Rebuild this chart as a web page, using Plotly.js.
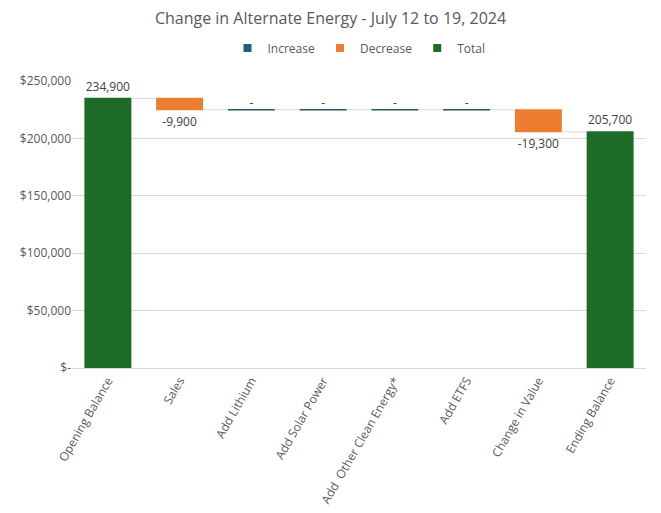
<!DOCTYPE html>
<html>
<head>
<meta charset="utf-8">
<script src="https://cdn.plot.ly/plotly-3.0.1.min.js"></script>
<style>html,body{margin:0;padding:0;background:#fff;}#chart{width:661px;height:513px;}</style>
</head>
<body>
<div id="chart"></div>
<script>
const categories = ['Opening Balance','Sales','Add Lithium','Add Solar Power','Add  Other Clean Energy*','Add ETFS','Change in Value','Ending Balance'];
const measures = ['absolute','relative','relative','relative','relative','relative','relative','total'];
const values = [234900,-9900,0,0,0,0,-19300,205700];
const yTickVals = [0,50000,100000,150000,200000,250000];
const yTickText = ['$-','$50,000','$100,000','$150,000','$200,000','$250,000'];

const fmt = v => v.toLocaleString('en-US');

// running totals
let running = 0; const levels = [];
values.forEach((v,i) => {
  if (measures[i]==='absolute') running = v;
  else if (measures[i]==='relative') running += v;
  levels.push(running);
});
const barText = values.map((v,i) => measures[i]==='total' ? fmt(levels[i]) : (v===0 ? '' : fmt(v)));
const zeroX = categories.filter((c,i)=>measures[i]==='relative' && values[i]===0);
const zeroY = levels.filter((l,i)=>measures[i]==='relative' && values[i]===0);

const cInc = '#1f5f82', cDec = '#ed7d31', cTot = '#1e6b27';
const labelFont = {family:'Open Sans, sans-serif', size:12, color:'#404040'};

const traces = [
  {type:'waterfall', x:categories, y:values, measure:measures, showlegend:false,
   text:barText, textposition:'outside', textfont:labelFont, cliponaxis:false,
   increasing:{marker:{color:cInc}}, decreasing:{marker:{color:cDec}}, totals:{marker:{color:cTot}},
   connector:{mode:'between', line:{color:'#d9d9d9', width:1}}, hoverinfo:'skip'},
  {type:'scatter', mode:'markers', x:zeroX, y:zeroY, showlegend:false,
   marker:{symbol:'line-ew', size:33.5, line:{width:1.5, color:'#1f5a60'}}, hoverinfo:'skip'},
  {type:'scatter', mode:'text', x:zeroX, y:zeroY, showlegend:false,
   text:zeroX.map(()=>'-'), textposition:'top center', textfont:labelFont, cliponaxis:false, hoverinfo:'skip'},
  {type:'scatter', mode:'markers', name:'Increase', x:[null], y:[null], marker:{symbol:'square', size:8, color:cInc}},
  {type:'scatter', mode:'markers', name:'Decrease', x:[null], y:[null], marker:{symbol:'square', size:8, color:cDec}},
  {type:'scatter', mode:'markers', name:'Total', x:[null], y:[null], marker:{symbol:'square', size:8, color:cTot}}
];

const layout = {
  width:661, height:513,
  margin:{l:72, r:15, t:81, b:145},
  paper_bgcolor:'#ffffff', plot_bgcolor:'#ffffff',
  font:{family:'Open Sans, sans-serif', color:'#595959', size:12},
  title:{text:'Change in Alternate Energy - July 12 to 19, 2024', x:0.5, xanchor:'center', y:0.965, yanchor:'middle',
         font:{family:'Open Sans, sans-serif', size:16, color:'#595959'}},
  showlegend:true,
  legend:{orientation:'h', x:0.5, xanchor:'center', y:1.115, yanchor:'middle', font:{size:12, color:'#595959'}, itemwidth:30, traceorder:'normal'},
  waterfallgap:0.345,
  xaxis:{type:'category', tickangle:-60, showgrid:false, showline:true, linecolor:'#d9d9d9', linewidth:1,
         ticks:'', tickfont:{size:12, color:'#595959'}, fixedrange:true},
  yaxis:{range:[0,250000], tickvals:yTickVals, ticktext:yTickText, showgrid:true, gridcolor:'#d9d9d9', gridwidth:1,
         zeroline:false, showline:false, ticks:'', tickfont:{size:12, color:'#595959'}, fixedrange:true}
};

Plotly.newPlot('chart', traces, layout, {displayModeBar:false, staticPlot:true});
</script>
</body>
</html>
